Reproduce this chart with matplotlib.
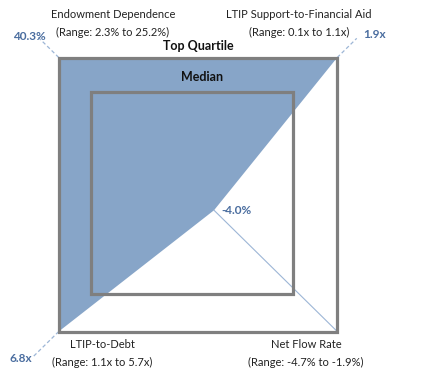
import numpy as np
import matplotlib.pyplot as plt
from matplotlib.patches import Polygon, Rectangle

plt.rcParams['font.family'] = ['Lato', 'DejaVu Sans']

# axes go to the four corners: top-left, top-right, bottom-right, bottom-left
axis_names = ["Endowment Dependence", "LTIP Support-to-Financial Aid",
              "Net Flow Rate", "LTIP-to-Debt"]
axis_ranges = ["(Range: 2.3% to 25.2%)", "(Range: 0.1x to 1.1x)",
               "(Range: -4.7% to -1.9%)", "(Range: 1.1x to 5.7x)"]
value_labels = ["40.3%", "1.9x", "-4.0%", "6.8x"]
# score: 1 = top quartile, capped at 1 for the shaded shape
raw_scores = [1.15, 1.14, 0.115, 1.19]
# median box in score units (left, right, bottom, top)
median_box = [-0.765, 0.679, -0.723, 0.745]

directions = np.array([[-1, 1], [1, 1], [1, -1], [-1, -1]])
scores = np.minimum(raw_scores, 1.0)

W, H = 439, 377
fig = plt.figure(figsize=(W / 100, H / 100), dpi=100)
ax = fig.add_axes([0, 0, 1, 1])
ax.set_xlim(-198 / 139.25, (W - 198) / 139.25)
ax.set_ylim(-(H - 194.5) / 137, 194.5 / 137)
ax.axis('off')

blue_fill = "#87a5c8"
gray = "#7f7f7f"
label_blue = "#4a6d9f"
line_blue = "#9db6d6"

# shaded shape
pts = directions * scores[:, None]
ax.add_patch(Polygon(pts, closed=True, facecolor=blue_fill, edgecolor='none', zorder=1))

# axis spokes: solid inside, dashed beyond top quartile
for d, s, r in zip(directions, scores, raw_scores):
    if s < 1:
        ax.plot([s * d[0], d[0]], [s * d[1], d[1]], color=line_blue, lw=0.8, zorder=2)
    if r > 1:
        ax.plot([d[0], r * d[0]], [d[1], r * d[1]], color=line_blue, lw=0.9,
                ls=(0, (3, 2)), zorder=2)

# top quartile and median squares
ax.add_patch(Rectangle((-1, -1), 2, 2, fill=False, edgecolor=gray, lw=2.3, zorder=3))
ax.add_patch(Rectangle((median_box[0], median_box[2]), median_box[1] - median_box[0],
                       median_box[3] - median_box[2], fill=False, edgecolor=gray,
                       lw=2.3, zorder=3))


def px(x, y):
    return x / W, 1 - y / H


fig.text(*px(198, 46), "Top Quartile", ha='center', va='center', fontsize=9,
         fontweight='bold', color='#111111')
fig.text(*px(202, 77), "Median", ha='center', va='center', fontsize=9,
         fontweight='bold', color='#111111')

name_pos = [(113, 15), (299, 15), (306, 345), (102, 345)]
for (x, y), n, rg in zip(name_pos, axis_names, axis_ranges):
    fig.text(*px(x, y), n, ha='center', va='center', fontsize=8, color='#222222')
    fig.text(*px(x, y + 17), rg, ha='center', va='center', fontsize=8, color='#222222')

val_pos = [(29, 36), (375, 35), (237, 210), (21, 358)]
for (x, y), v in zip(val_pos, value_labels):
    fig.text(*px(x, y), v, ha='center', va='center', fontsize=8.5,
             fontweight='bold', color=label_blue)

fig.savefig("out.png", dpi=100)
